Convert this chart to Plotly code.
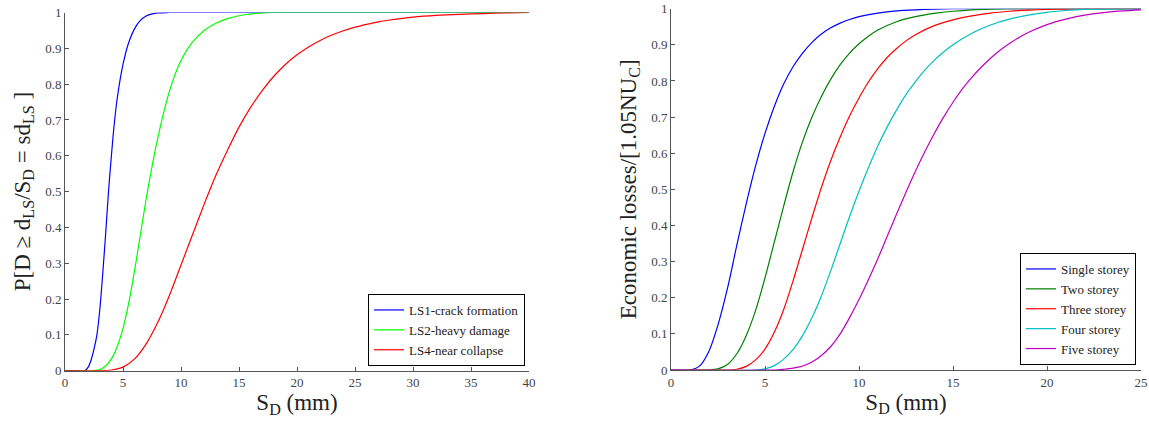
import plotly.graph_objects as go

# ---- Left panel: fragility curves ----
ls1_x = [0, 1.0, 1.7, 2.0, 2.25, 2.5, 2.75, 3.0, 3.25, 3.5, 3.75, 4.0, 4.25, 4.5, 5.0, 5.5, 6.0, 6.5, 7.0, 7.5, 8.0, 9.0, 40]
ls1_y = [0, 0, 0, 0.01, 0.03, 0.06, 0.1, 0.17, 0.27, 0.38, 0.5, 0.6, 0.69, 0.76, 0.855, 0.917, 0.955, 0.978, 0.99, 0.996, 0.999, 1.0, 1.0]

ls2_x = [0, 2.5, 3.0, 3.5, 4.0, 4.5, 5.0, 5.5, 6.0, 6.5, 7.0, 7.5, 8.0, 8.5, 9.0, 9.5, 10, 11, 12, 13, 14, 15, 16, 17, 18, 40]
ls2_y = [0, 0, 0.003, 0.013, 0.033, 0.067, 0.118, 0.19, 0.28, 0.38, 0.48, 0.57, 0.65, 0.72, 0.78, 0.828, 0.866, 0.918, 0.95, 0.97, 0.983, 0.991, 0.996, 0.999, 1.0, 1.0]

ls4_x = [0, 3, 4, 5, 6, 7, 8, 9, 10, 11, 12, 13, 14, 15, 16, 17, 18, 19, 20, 21, 22, 23, 24, 25, 26, 27, 28, 30, 32, 34, 36, 38, 40]
ls4_y = [0, 0, 0.002, 0.01, 0.033, 0.075, 0.135, 0.21, 0.295, 0.38, 0.465, 0.545, 0.615, 0.68, 0.735, 0.782, 0.822, 0.855, 0.882, 0.904, 0.922, 0.937, 0.949, 0.959, 0.967, 0.974, 0.979, 0.987, 0.992, 0.995, 0.997, 0.999, 1.0]

# ---- Right panel: economic losses ----
s1_x = [0, 1.0, 1.5, 2, 2.5, 3, 3.5, 4, 4.5, 5, 5.5, 6, 6.5, 7, 7.5, 8, 8.5, 9, 9.5, 10, 11, 12, 13, 14, 15, 25]
s1_y = [0, 0, 0.01, 0.05, 0.125, 0.225, 0.345, 0.46, 0.565, 0.655, 0.73, 0.792, 0.84, 0.877, 0.907, 0.93, 0.947, 0.96, 0.97, 0.978, 0.988, 0.994, 0.997, 0.999, 1.0, 1.0]

s2_x = [0, 2.0, 2.5, 3, 3.5, 4, 4.5, 5, 5.5, 6, 6.5, 7, 7.5, 8, 8.5, 9, 9.5, 10, 10.5, 11, 12, 13, 14, 15, 16, 17, 18, 25]
s2_y = [0, 0, 0.003, 0.015, 0.045, 0.095, 0.165, 0.255, 0.355, 0.455, 0.55, 0.632, 0.7, 0.757, 0.805, 0.845, 0.877, 0.903, 0.924, 0.941, 0.964, 0.978, 0.987, 0.993, 0.997, 0.999, 1.0, 1.0]

s3_x = [0, 3.0, 3.5, 4, 4.5, 5, 5.5, 6, 6.5, 7, 7.5, 8, 8.5, 9, 9.5, 10, 10.5, 11, 11.5, 12, 12.5, 13, 14, 15, 16, 17, 18, 19, 20, 21, 22, 25]
s3_y = [0, 0, 0.002, 0.01, 0.028, 0.058, 0.105, 0.168, 0.248, 0.335, 0.422, 0.505, 0.58, 0.645, 0.703, 0.753, 0.797, 0.834, 0.865, 0.89, 0.911, 0.928, 0.953, 0.969, 0.98, 0.988, 0.993, 0.996, 0.998, 0.999, 1.0, 1.0]

s4_x = [0, 4.5, 5, 5.5, 6, 6.5, 7, 7.5, 8, 8.5, 9, 9.5, 10, 10.5, 11, 11.5, 12, 12.5, 13, 13.5, 14, 14.5, 15, 16, 17, 18, 19, 20, 21, 22, 23, 25]
s4_y = [0, 0, 0.003, 0.012, 0.03, 0.057, 0.095, 0.145, 0.205, 0.275, 0.35, 0.425, 0.495, 0.56, 0.62, 0.673, 0.72, 0.762, 0.798, 0.83, 0.857, 0.88, 0.9, 0.932, 0.955, 0.971, 0.982, 0.99, 0.995, 0.998, 0.999, 1.0]

s5_x = [0, 5.5, 6, 6.5, 7, 7.5, 8, 8.5, 9, 9.5, 10, 10.5, 11, 11.5, 12, 12.5, 13, 13.5, 14, 14.5, 15, 15.5, 16, 16.5, 17, 17.5, 18, 19, 20, 21, 22, 23, 24, 25]
s5_y = [0, 0, 0.002, 0.005, 0.011, 0.022, 0.04, 0.065, 0.1, 0.145, 0.195, 0.25, 0.308, 0.37, 0.432, 0.492, 0.55, 0.604, 0.654, 0.7, 0.741, 0.778, 0.81, 0.838, 0.863, 0.885, 0.904, 0.934, 0.956, 0.971, 0.982, 0.989, 0.994, 0.997]

left_names = ["LS1-crack formation", "LS2-heavy damage", "LS4-near collapse"]
right_names = ["Single storey", "Two storey", "Three storey", "Four storey", "Five storey"]
y_ticks = [0, 0.1, 0.2, 0.3, 0.4, 0.5, 0.6, 0.7, 0.8, 0.9, 1]
y_labels = ["0", "0.1", "0.2", "0.3", "0.4", "0.5", "0.6", "0.7", "0.8", "0.9", "1"]
left_xticks = [0, 5, 10, 15, 20, 25, 30, 35, 40]
right_xticks = [0, 5, 10, 15, 20, 25]

FONT = "Liberation Serif"
fig = go.Figure()

left_series = [(ls1_x, ls1_y, "#0000ff"), (ls2_x, ls2_y, "#00ff00"), (ls4_x, ls4_y, "#ff0000")]
for (xs, ys, c), n in zip(left_series, left_names):
    fig.add_trace(go.Scatter(x=xs, y=ys, mode="lines", name=n,
                             line=dict(color=c, width=1.2, shape="spline", smoothing=0.8),
                             xaxis="x", yaxis="y", legend="legend"))

right_series = [(s1_x, s1_y, "#0000ff"), (s2_x, s2_y, "#008000"), (s3_x, s3_y, "#ff0000"),
                (s4_x, s4_y, "#00bfbf"), (s5_x, s5_y, "#bf00bf")]
for (xs, ys, c), n in zip(right_series, right_names):
    fig.add_trace(go.Scatter(x=xs, y=ys, mode="lines", name=n,
                             line=dict(color=c, width=1.2, shape="spline", smoothing=0.8),
                             xaxis="x2", yaxis="y2", legend="legend2"))

W, H = 1149, 425
axis_common = dict(showline=True, linecolor="#555", linewidth=1, ticks="inside", ticklen=4, tickcolor="#555",
                   showgrid=False, zeroline=False, automargin=False,
                   tickfont=dict(family=FONT, size=13, color="#444"))
title_font = dict(family=FONT, size=23, color="#222")

fig.update_layout(
    width=W, height=H, margin=dict(l=0, r=0, t=0, b=0),
    paper_bgcolor="white", plot_bgcolor="white",
    font=dict(family=FONT, color="#222"),
    xaxis=dict(domain=[65 / W, 529 / W], range=[0, 40], tickvals=left_xticks, anchor="y",
               title=dict(text="S<sub>D</sub> (mm)", font=title_font, standoff=4),
               **axis_common),
    yaxis=dict(domain=[(H - 370.7) / H, (H - 12.5) / H], range=[0, 1], tickvals=y_ticks, ticktext=y_labels, anchor="x",
               title=dict(text="P[D ≥ d<sub>LS</sub>/S<sub>D</sub> = sd<sub>LS</sub> ]", font=title_font, standoff=8),
               **axis_common),
    xaxis2=dict(domain=[671 / W, 1141 / W], range=[0, 25], tickvals=right_xticks, anchor="y2",
                title=dict(text="S<sub>D</sub> (mm)", font=title_font, standoff=4),
                **axis_common),
    yaxis2=dict(domain=[(H - 370) / H, (H - 8.7) / H], range=[0, 1], tickvals=y_ticks, ticktext=y_labels, anchor="x2",
                title=dict(text="Economic losses/[1.05NU<sub>C</sub>]", font=title_font, standoff=8),
                **axis_common),
    legend=dict(x=525 / W, y=(H - 366) / H, xanchor="right", yanchor="bottom", bgcolor="white",
                bordercolor="black", borderwidth=1, font=dict(family=FONT, size=13, color="#222"),
                tracegroupgap=0, itemwidth=30),
    legend2=dict(x=1136 / W, y=(H - 365) / H, xanchor="right", yanchor="bottom", bgcolor="white",
                 bordercolor="black", borderwidth=1, font=dict(family=FONT, size=13, color="#222"),
                 tracegroupgap=0, itemwidth=30),
    showlegend=True,
)

fig.write_html("out.html")
